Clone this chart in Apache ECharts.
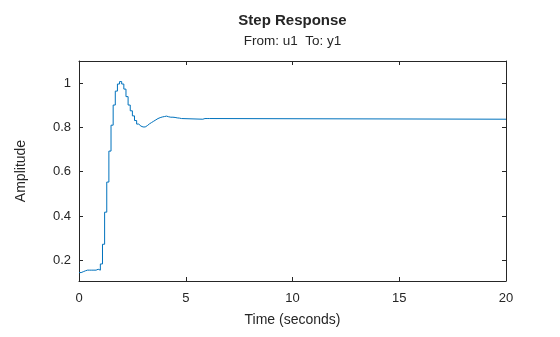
<!DOCTYPE html>
<html>
<head>
<meta charset="utf-8">
<script src="https://cdn.jsdelivr.net/npm/echarts@6/dist/echarts.min.js"></script>
<style>
  html, body { margin: 0; padding: 0; background: #fff; }
  #chart { width: 560px; height: 337px; }
</style>
</head>
<body>
<div id="chart"></div>
<script>
// Sampled step response (sample time 0.1 s), held between samples
const sampleTimes = [
  0.0, 0.1, 0.2, 0.3, 0.4, 0.5, 0.6, 0.7, 0.8, 0.9,
  1.0, 1.1, 1.2, 1.3, 1.4, 1.5, 1.6, 1.7, 1.8, 1.9,
  2.0, 2.1, 2.2, 2.3, 2.4, 2.5, 2.6, 2.7, 2.8, 2.9,
  3.0, 3.1, 3.2, 3.3, 3.4, 3.5, 3.6, 3.7, 3.8, 3.9,
  4.0, 4.1, 4.2, 4.3, 4.4, 4.5, 4.6, 4.7, 4.8, 5.8,
  5.9, 6.0, 6.1, 20.0
];
const amplitude = [
  0.144, 0.148, 0.152, 0.155, 0.155, 0.155, 0.155, 0.155, 0.159, 0.155,
  0.183, 0.272, 0.417, 0.553, 0.693, 0.810, 0.901, 0.964, 0.996, 1.007,
  0.996, 0.973, 0.939, 0.901, 0.875, 0.852, 0.831, 0.815, 0.806, 0.802,
  0.802, 0.808, 0.816, 0.822, 0.828, 0.834, 0.840, 0.844, 0.847, 0.849,
  0.851, 0.848, 0.846, 0.846, 0.845, 0.843, 0.842, 0.840, 0.837, 0.840,
  0.840, 0.840, 0.837, 0.837
];
const timeTicks = [0, 5, 10, 15, 20];
const ampTicks = [0.2, 0.4, 0.6, 0.8, 1.0];

const ink = '#262626';
const font = 'Liberation Sans, Arial, Helvetica, sans-serif';

const points = sampleTimes.map((t, i) => [t, amplitude[i]]);

const chart = echarts.init(document.getElementById('chart'), null, { renderer: 'canvas' });

function xAxisDef(pos, showLabels) {
  return {
    type: 'value', position: pos, min: 0, max: 20, interval: 5,
    axisLine: { show: true, onZero: false, lineStyle: { color: ink, width: 1 } },
    axisTick: { show: true, inside: true, length: 4, lineStyle: { color: ink }, customValues: timeTicks },
    axisLabel: { show: showLabels, color: ink, fontSize: 13, fontFamily: font, margin: 11, customValues: timeTicks },
    splitLine: { show: false },
    name: showLabels ? 'Time (seconds)' : '',
    nameLocation: 'middle', nameGap: 32,
    nameTextStyle: { color: ink, fontSize: 14, fontFamily: font }
  };
}
function yAxisDef(pos, showLabels) {
  return {
    type: 'value', position: pos, min: 0.106, max: 1.1,
    axisLine: { show: true, onZero: false, lineStyle: { color: ink, width: 1 } },
    axisTick: { show: true, inside: true, length: 4, lineStyle: { color: ink }, customValues: ampTicks },
    axisLabel: { show: showLabels, color: ink, fontSize: 13, fontFamily: font, margin: 8, customValues: ampTicks,
                 formatter: v => String(Math.round(v * 10) / 10) },
    splitLine: { show: false },
    name: showLabels ? 'Amplitude' : '',
    nameLocation: 'middle', nameGap: 51, nameRotate: 90,
    nameTextStyle: { color: ink, fontSize: 14, fontFamily: font }
  };
}

chart.setOption({
  animation: false,
  backgroundColor: '#ffffff',
  grid: { left: 79, right: 54, top: 61, bottom: 56, containLabel: false },
  xAxis: [xAxisDef('bottom', true), xAxisDef('top', false)],
  yAxis: [yAxisDef('left', true), yAxisDef('right', false)],
  graphic: [
    { type: 'text', x: 292.5, y: 20.5, style: { text: 'Step Response', fill: ink, font: 'bold 15px ' + font, textAlign: 'center', textVerticalAlign: 'middle' } },
    { type: 'text', x: 292.5, y: 41.5, style: { text: 'From: u1  To: y1', fill: ink, font: '13.5px ' + font, textAlign: 'center', textVerticalAlign: 'middle' } }
  ],
  series: [{
    type: 'line',
    xAxisIndex: 0, yAxisIndex: 0,
    step: 'end',
    data: points,
    showSymbol: false,
    symbol: 'none',
    lineStyle: { color: '#0072BD', width: 1 },
    clip: true
  }]
});
</script>
</body>
</html>
